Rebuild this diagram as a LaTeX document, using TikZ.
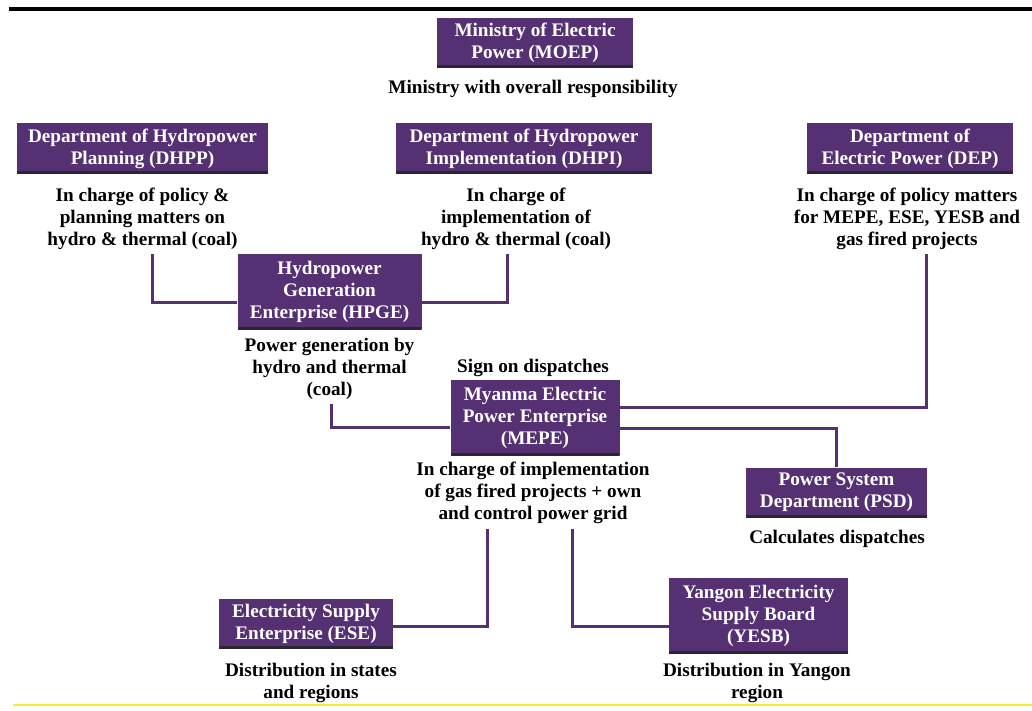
\documentclass[tikz,border=0pt]{standalone}
\usepackage{fontspec}
\setmainfont{Liberation Serif}
\definecolor{boxpurple}{HTML}{553073}
\definecolor{boxdark}{HTML}{2A2630}
\definecolor{lineyellow}{HTML}{F4EE30}
\begin{document}
\begin{tikzpicture}[x=1pt,y=-1pt,
  every node/.style={font=\fontsize{19.2}{22}\selectfont\bfseries, align=center, inner sep=0pt},
  orgbox/.style={fill=boxpurple, text=white, draw=none,
    path picture={\draw[line width=5pt, boxdark] (path picture bounding box.south west) -- (path picture bounding box.south east);}},
  desc/.style={text=black},
  conn/.style={draw=boxpurple, line width=3pt}]
\useasboundingbox (0,0) rectangle (1032,711);
\fill[white] (0,0) rectangle (1032,711);
\draw[line width=4pt] (9,9) -- (1032,9);
\draw[lineyellow, line width=1.2pt] (13,705) -- (1032,705);

% boxes
\node[orgbox, minimum width=196pt, minimum height=50pt] (moep) at (535,43) {Ministry of Electric\\Power (MOEP)};
\node[orgbox, minimum width=251pt, minimum height=51pt] (dhpp) at (142.5,148.5) {Department of Hydropower\\Planning (DHPP)};
\node[orgbox, minimum width=256pt, minimum height=51pt] (dhpi) at (524,148.5) {Department of Hydropower\\Implementation (DHPI)};
\node[orgbox, minimum width=206pt, minimum height=51pt] (dep) at (910,148.5) {Department of\\Electric Power (DEP)};
\node[orgbox, minimum width=184pt, minimum height=75pt] (hpge) at (329.5,291.5) {Hydropower\\Generation\\Enterprise (HPGE)};
\node[orgbox, minimum width=169pt, minimum height=75pt] (mepe) at (535,417.5) {Myanma Electric\\Power Enterprise\\(MEPE)};
\node[orgbox, minimum width=181pt, minimum height=50pt] (psd) at (836.5,492.5) {Power System\\Department (PSD)};
\node[orgbox, minimum width=174pt, minimum height=50pt] (ese) at (306,623.5) {Electricity Supply\\Enterprise (ESE)};
\node[orgbox, minimum width=179pt, minimum height=75pt] (yesb) at (758.5,615.5) {Yangon Electricity\\Supply Board\\(YESB)};

% descriptions
\node[desc] (moept) at (533,89) {Ministry with overall responsibility};
\node[desc] (dhppt) at (142.5,218.5) {In charge of policy \&\\planning matters on\\hydro \& thermal (coal)};
\node[desc] (dhpit) at (516,218.5) {In charge of\\implementation of\\hydro \& thermal (coal)};
\node[desc] (dept) at (907,218.5) {In charge of policy matters\\for MEPE, ESE, YESB and\\gas fired projects};
\node[desc] (hpget) at (329.5,368.5) {Power generation by\\hydro and thermal\\(coal)};
\node[desc] (sign) at (533,368) {Sign on dispatches};
\node[desc] (mepet) at (533,492.5) {In charge of implementation\\of gas fired projects + own\\and control power grid};
\node[desc] (psdt) at (837,539) {Calculates dispatches};
\node[desc] (eset) at (311,683) {Distribution in states\\and regions};
\node[desc] (yesbt) at (757,683) {Distribution in Yangon\\region};

% connector ends
\coordinate (c1) at (152,254);
\coordinate (c2) at (507,254);
\coordinate (c3) at (331,404);
\coordinate (c4) at (926,254);
\coordinate (c5) at (487.5,529);
\coordinate (c6) at (572.5,529);

\draw[conn] (c1) |- ([yshift=-10.5pt]hpge.west);
\draw[conn] (c2) |- ([yshift=-10.5pt]hpge.east);
\draw[conn] (c3) |- ([yshift=-9.5pt]mepe.west);
\draw[conn] (c4) |- ([yshift=10.5pt]mepe.east);
\draw[conn] ([yshift=-10.5pt]mepe.east) -| (psd.north);
\draw[conn] (c5) |- ([yshift=-2.5pt]ese.east);
\draw[conn] (c6) |- ([yshift=-10.5pt]yesb.west);
\end{tikzpicture}
\end{document}
